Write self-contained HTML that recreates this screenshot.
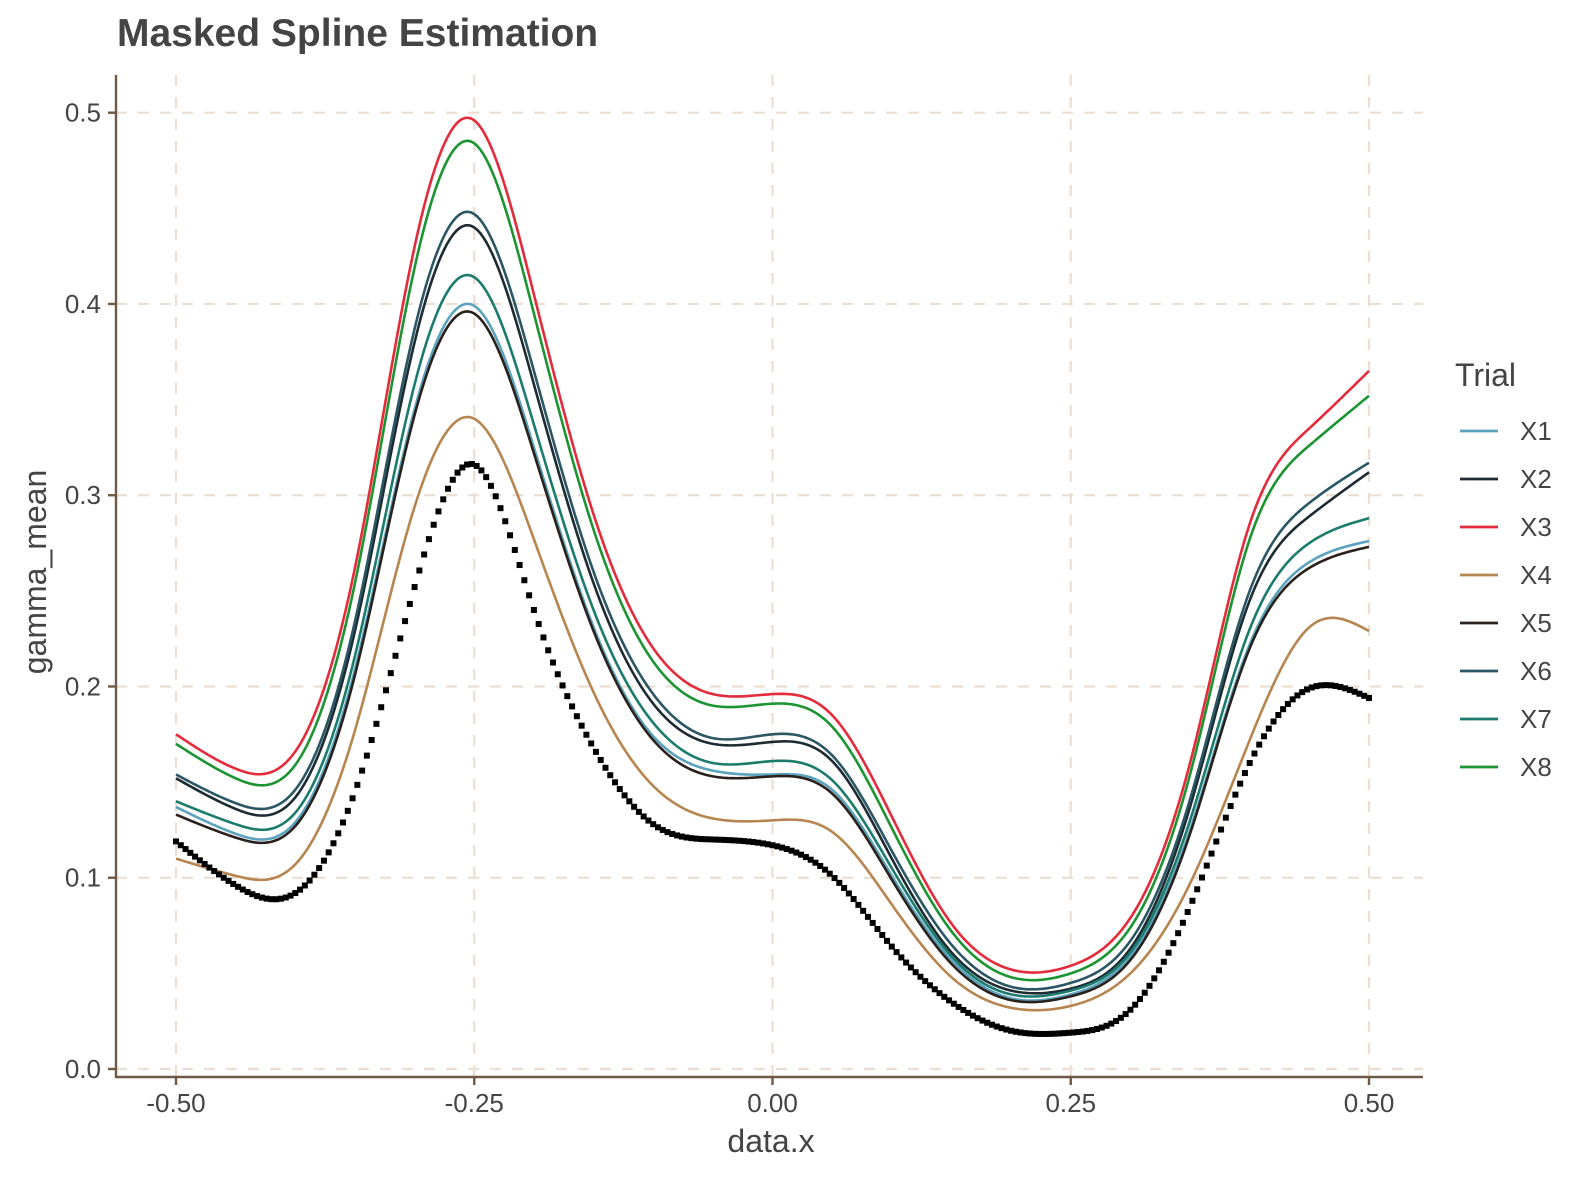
<!DOCTYPE html>
<html><head><meta charset="utf-8"><style>
html,body{margin:0;padding:0;background:#fff;}
svg{display:block;font-family:"Liberation Sans",Arial,sans-serif;}
</style></head><body>
<svg id="chart" width="1574" height="1181" viewBox="0 0 1574 1181" xmlns="http://www.w3.org/2000/svg">
<text x="117" y="46" font-size="39" font-weight="bold" fill="#444">Masked Spline Estimation</text>
<g id="grid"></g>
<g id="series"></g>
<g id="axes"></g>
<text x="771" y="1152" font-size="32" fill="#444" text-anchor="middle">data.x</text>
<text transform="translate(46,572) rotate(-90)" font-size="32" fill="#444" text-anchor="middle">gamma_mean</text>
<g id="legend">
<text x="1455" y="386" font-size="32" fill="#444">Trial</text>
</g>
</svg>
<script>
const xGrid = [-0.5,-0.45,-0.4,-0.35,-0.3,-0.25,-0.2,-0.15,-0.1,-0.05,0,0.05,0.1,0.15,0.2,0.25,0.3,0.35,0.4,0.45,0.5];
const seriesNames = ["X1","X2","X3","X4","X5","X6","X7","X8"];
const seriesColors = ["#5ba3bd","#1d2b33","#e32b3b","#b7854f","#2a211d","#2b5664","#1b7b6c","#1b9431"];
const x1Values = [.137,.123,.129,.209,.345,.399,.325,.231,.174,.156,.154,.146,.101,.057,.037,.039,.059,.125,.222,.265,.276];
const x2Values = [.152,.136,.142,.229,.380,.440,.358,.254,.191,.170,.171,.161,.110,.061,.041,.042,.063,.137,.245,.289,.312];
const x3Values = [.175,.157,.166,.262,.430,.496,.405,.290,.220,.196,.196,.185,.132,.076,.052,.054,.079,.160,.285,.335,.365];
const x4Values = [.110,.101,.107,.177,.294,.340,.277,.197,.148,.131,.130,.124,.086,.048,.032,.033,.050,.097,.172,.231,.229];
const x5Values = [.133,.121,.127,.206,.342,.395,.322,.229,.172,.153,.153,.144,.099,.055,.036,.038,.057,.123,.220,.262,.273];
const x6Values = [.154,.139,.146,.234,.387,.447,.365,.260,.196,.173,.175,.164,.114,.065,.043,.045,.067,.141,.250,.296,.317];
const x7Values = [.140,.128,.134,.216,.358,.414,.337,.240,.181,.160,.161,.151,.105,.059,.039,.041,.061,.130,.230,.275,.288];
const x8Values = [.170,.152,.159,.254,.419,.484,.395,.282,.213,.190,.191,.179,.126,.072,.048,.050,.074,.154,.277,.326,.352];
const truthValues = [.119,.096,.092,.145,.252,.316,.240,.168,.128,.120,.117,.101,.064,.035,.020,.019,.031,.085,.160,.199,.194];
const xTicks = [-0.5,-0.25,0,0.25,0.5];
const xTickLabels = ["-0.50","-0.25","0.00","0.25","0.50"];
const yTicks = [0,0.1,0.2,0.3,0.4,0.5];
const yTickLabels = ["0.0","0.1","0.2","0.3","0.4","0.5"];

const allSeries = [x1Values,x2Values,x3Values,x4Values,x5Values,x6Values,x7Values,x8Values];
const NS = "http://www.w3.org/2000/svg";
const X0 = 116, X1 = 1423, Y0 = 1077, Y1 = 75;
function sx(v){ return 176 + (v + 0.5) * 1193; }
function sy(v){ return 1069 - v * 1912.6; }
function mk(tag, attrs, parent){ const e = document.createElementNS(NS, tag); for (const k in attrs) e.setAttribute(k, attrs[k]); parent.appendChild(e); return e; }

function splineFn(xs, ys){
  const n = xs.length, h = [], al = [], l = [1], mu = [0], z = [0], c = new Array(n).fill(0), b = [], d = [];
  for (let i = 0; i < n-1; i++) h.push(xs[i+1]-xs[i]);
  for (let i = 1; i < n-1; i++) al[i] = 3/h[i]*(ys[i+1]-ys[i]) - 3/h[i-1]*(ys[i]-ys[i-1]);
  for (let i = 1; i < n-1; i++) { l[i] = 2*(xs[i+1]-xs[i-1]) - h[i-1]*mu[i-1]; mu[i] = h[i]/l[i]; z[i] = (al[i]-h[i-1]*z[i-1])/l[i]; }
  for (let j = n-2; j >= 0; j--) { c[j] = (j < n-1 ? (z[j]||0) - mu[j]*c[j+1] : 0); b[j] = (ys[j+1]-ys[j])/h[j] - h[j]*(c[j+1]+2*c[j])/3; d[j] = (c[j+1]-c[j])/(3*h[j]); }
  c[0] = 0; b[0] = (ys[1]-ys[0])/h[0] - h[0]*(c[1])/3; d[0] = c[1]/(3*h[0]);
  return function(x){
    let i = 0; while (i < n-2 && x > xs[i+1]) i++;
    const t = x - xs[i];
    return ys[i] + b[i]*t + c[i]*t*t + d[i]*t*t*t;
  };
}

const grid = document.getElementById('grid');
xTicks.forEach(v => {
  const l = mk('line', {x1:sx(v), x2:sx(v), y1:Y1, y2:Y0, stroke:'#eadfd2', 'stroke-width':2.2, 'stroke-dasharray':'11,11'}, grid);
  
  
});
yTicks.forEach(v => {
  const l = mk('line', {x1:X0, x2:X1, y1:sy(v), y2:sy(v), stroke:'#eadfd2', 'stroke-width':2.2, 'stroke-dasharray':'11,11'}, grid);
  
  
});

const ser = document.getElementById('series');
allSeries.forEach((vals, si) => {
  const f = splineFn(xGrid, vals);
  let d = '';
  for (let k = 0; k <= 400; k++) {
    const x = -0.5 + k / 400;
    d += (k ? 'L' : 'M') + sx(x).toFixed(2) + ',' + sy(f(x)).toFixed(2);
  }
  const p = mk('path', {d:d, fill:'none', stroke:seriesColors[si], 'stroke-width':2.6}, ser);
  
  
});
const tg = mk('g', {}, ser);


const ft = splineFn(xGrid, truthValues);
for (let k = 0; k <= 250; k++) {
  const x = -0.5 + k / 250;
  const r = mk('rect', {x:sx(x)-3, y:sy(ft(x))-3, width:6, height:6, fill:'#000'}, tg);
  
  
}

const ax = document.getElementById('axes');
const ya = mk('line', {x1:X0, x2:X0, y1:Y1, y2:Y0+1, stroke:'#6e5a44', 'stroke-width':2.4}, ax);


const xa = mk('line', {x1:X0-1, x2:X1, y1:Y0, y2:Y0, stroke:'#6e5a44', 'stroke-width':2.4}, ax);


xTicks.forEach((v, i) => {
  const t = mk('line', {x1:sx(v), x2:sx(v), y1:Y0, y2:Y0+8, stroke:'#6e5a44', 'stroke-width':2.4}, ax);
  
  
  const lb = mk('text', {x:sx(v), y:1112, 'font-size':26, fill:'#444', 'text-anchor':'middle'}, ax);
  lb.textContent = xTickLabels[i];
  
  
});
yTicks.forEach((v, i) => {
  const t = mk('line', {x1:X0-8, x2:X0, y1:sy(v), y2:sy(v), stroke:'#6e5a44', 'stroke-width':2.4}, ax);
  
  
  const lb = mk('text', {x:101, y:sy(v)+9, 'font-size':26, fill:'#444', 'text-anchor':'end'}, ax);
  lb.textContent = yTickLabels[i];
  
  
});

const lg = document.getElementById('legend');
seriesNames.forEach((n, i) => {
  const y = 431 + i * 48;
  const g = mk('g', {}, lg);
  
  
  const l = mk('line', {x1:1460, x2:1498, y1:y, y2:y, stroke:seriesColors[i], 'stroke-width':2.8}, g);
  
  
  const t = mk('text', {x:1520, y:y+9, 'font-size':26, fill:'#444'}, g);
  t.textContent = n;
  
  
});
</script>
</body></html>
